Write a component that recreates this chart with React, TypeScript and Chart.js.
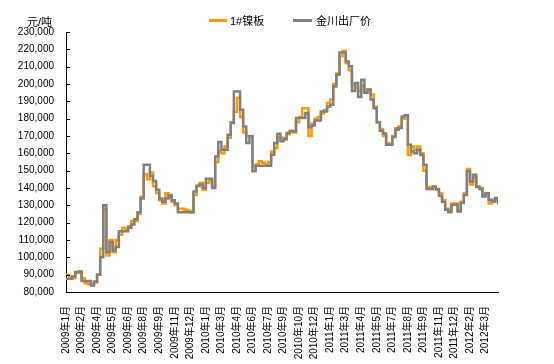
import React, { useEffect, useRef } from "react";
import { Chart, registerables } from "chart.js";

Chart.register(...registerables);

const SAMPLE_DAYS = 6;
const LABEL_EVERY_DAYS = 30;

const tickLabels = [
  "2009年1月", "2009年2月", "2009年4月", "2009年5月", "2009年6月", "2009年8月", "2009年9月",
  "2009年11月", "2009年12月", "2010年1月", "2010年3月", "2010年4月", "2010年6月", "2010年7月",
  "2010年9月", "2010年10月", "2010年12月", "2011年1月", "2011年3月", "2011年4月", "2011年5月",
  "2011年7月", "2011年8月", "2011年9月", "2011年11月", "2011年12月", "2012年2月", "2012年3月",
];

const nickelPlate = [
  90000, 89000, 88000, 91000, 92000, 88000, 85000, 84500, 84000, 85500,
  90000, 105000, 128000, 101000, 110000, 103000, 110000, 113000, 117000, 116000,
  118000, 121000, 121000, 125000, 135000, 148000, 145000, 149000, 141000, 137000,
  133000, 131000, 137000, 135000, 132000, 130000, 128000, 128000, 127500, 127000,
  126000, 136000, 141000, 143000, 139000, 143000, 144000, 141000, 155000, 161000,
  160000, 164000, 169000, 178000, 184000, 192000, 181000, 172000, 170000, 170000,
  152000, 153500, 155500, 154500, 153500, 155000, 161000, 163000, 169000, 169000,
  168000, 171000, 173000, 172000, 178000, 181000, 186000, 186000, 170000, 177000,
  180000, 181000, 183000, 185000, 189000, 191000, 200000, 206000, 216000, 219000,
  212000, 208000, 200000, 198000, 196000, 199000, 195000, 197000, 194000, 187000,
  178000, 174000, 170000, 166000, 165000, 170000, 174500, 175500, 180000, 181500,
  159000, 164000, 162000, 164000, 160000, 150000, 140600, 140600, 141000, 139000,
  137000, 133000, 128000, 127000, 131000, 131000, 127000, 132000, 137000, 151000,
  142000, 146000, 141000, 140000, 136000, 137000, 131000, 132000, 133000, 130000,
];

const jinchuanPrice = [
  87600, 87600, 89000, 91500, 91500, 86300, 86300, 86300, 83800, 86000,
  90000, 100000, 130000, 103000, 108800, 104000, 106000, 115000, 115000, 115000,
  117000, 119000, 122000, 126000, 134000, 153400, 153400, 147000, 144000, 139000,
  134000, 132000, 134000, 136000, 133000, 131000, 126000, 126000, 126000, 126000,
  126000, 138000, 141300, 142000, 140000, 145400, 145400, 140000, 158200, 166600,
  162000, 162000, 170700, 177500, 195700, 195700, 185200, 175500, 166000, 169800,
  149600, 152800, 152800, 152800, 152800, 152800, 159200, 166000, 171300, 167000,
  168300, 171700, 172800, 172800, 180400, 180400, 180400, 183300, 175000, 176000,
  179000, 179000, 184200, 184200, 187000, 188000, 198600, 205400, 218200, 218200,
  213000, 210200, 196000, 200600, 192500, 202500, 195000, 196700, 191000, 186000,
  178000, 173000, 171500, 165000, 165000, 169400, 173600, 174600, 181300, 182000,
  165000, 161000, 160000, 162000, 159000, 153400, 139400, 139400, 140600, 139400,
  135500, 132000, 127500, 126000, 130300, 130300, 126500, 131300, 136000, 149600,
  143800, 147700, 140600, 139400, 135100, 137000, 133200, 132300, 134200, 130900,
];

const seriesNames = ["1#镍板", "金川出厂价"];
const seriesColors = ["#FF9900", "#808080"];
const yUnit = "元/吨";

const FONT = "'Liberation Sans', 'Noto Sans CJK SC', sans-serif";

const overlayPlugin = {
  id: "overlay",
  afterDraw(chart: any) {
    const ctx = chart.ctx;
    const y = chart.scales.y;
    const area = chart.chartArea;
    ctx.save();
    // inward tick marks on the value axis
    ctx.strokeStyle = "#000";
    ctx.lineWidth = 1;
    y.ticks.forEach((t: any) => {
      const py = Math.round(y.getPixelForValue(t.value)) + 0.5;
      ctx.beginPath();
      ctx.moveTo(area.left, py);
      ctx.lineTo(area.left + 4, py);
      ctx.stroke();
    });
    // unit title
    ctx.fillStyle = "#000";
    ctx.font = `11px ${FONT}`;
    ctx.textBaseline = "middle";
    ctx.textAlign = "left";
    ctx.fillText(yUnit, 27, 23);
    // legend
    const items = [
      { x0: 209, x1: 227, tx: 230 },
      { x0: 293, x1: 312, tx: 316 },
    ];
    items.forEach((it, i) => {
      ctx.strokeStyle = seriesColors[i];
      ctx.lineWidth = 3;
      ctx.beginPath();
      ctx.moveTo(it.x0, 20.5);
      ctx.lineTo(it.x1, 20.5);
      ctx.stroke();
      ctx.fillStyle = "#000";
      ctx.fillText(seriesNames[i], it.tx, 21.5);
    });
    ctx.restore();
  },
};

export default function App() {
  const canvasRef = useRef<HTMLCanvasElement | null>(null);

  useEffect(() => {
    if (!canvasRef.current) return;
    const toPoints = (arr: number[]) => arr.map((v, i) => ({ x: i * SAMPLE_DAYS, y: v }));
    const lastDay = (jinchuanPrice.length - 1) * SAMPLE_DAYS;
    const chart = new Chart(canvasRef.current, {
      type: "line",
      data: {
        datasets: [
          {
            label: seriesNames[0],
            data: toPoints(nickelPlate),
            borderColor: seriesColors[0],
            backgroundColor: seriesColors[0],
            borderWidth: 2.5,
            pointRadius: 0,
            stepped: true,
            order: 1,
          },
          {
            label: seriesNames[1],
            data: toPoints(jinchuanPrice),
            borderColor: seriesColors[1],
            backgroundColor: seriesColors[1],
            borderWidth: 2.5,
            pointRadius: 0,
            stepped: true,
            order: 0,
          },
        ],
      },
      options: {
        responsive: false,
        animation: false,
        layout: { padding: { left: 0, right: 56, top: 32, bottom: 0 } },
        plugins: {
          legend: { display: false },
          tooltip: { enabled: false },
        },
        scales: {
          x: {
            type: "linear",
            min: 0,
            max: lastDay,
            grid: { display: false, drawTicks: false },
            border: { display: true, color: "#000", width: 1 },
            afterBuildTicks: (scale: any) => {
              scale.ticks = tickLabels.map((_, i) => ({ value: i * LABEL_EVERY_DAYS }));
            },
            afterFit: (scale: any) => {
              scale.height = 72;
            },
            ticks: {
              autoSkip: false,
              minRotation: 90,
              maxRotation: 90,
              padding: 14,
              color: "#000",
              font: { family: FONT, size: 10 },
              callback: (value: any) => tickLabels[Math.round(Number(value) / LABEL_EVERY_DAYS)] ?? "",
            },
          },
          y: {
            min: 80000,
            max: 230000,
            grid: { display: false, drawTicks: false },
            border: { display: true, color: "#000", width: 1 },
            afterFit: (scale: any) => {
              scale.width = 66;
            },
            ticks: {
              stepSize: 10000,
              padding: 12,
              color: "#000",
              font: { family: FONT, size: 10 },
              callback: (value: any) => Number(value).toLocaleString("en-US"),
            },
          },
        },
      },
      plugins: [overlayPlugin],
    });
    return () => chart.destroy();
  }, []);

  return (
    <canvas
      ref={canvasRef}
      width={554}
      height={364}
      style={{ position: "absolute", left: 0, top: 0, width: 554, height: 364 }}
    />
  );
}
